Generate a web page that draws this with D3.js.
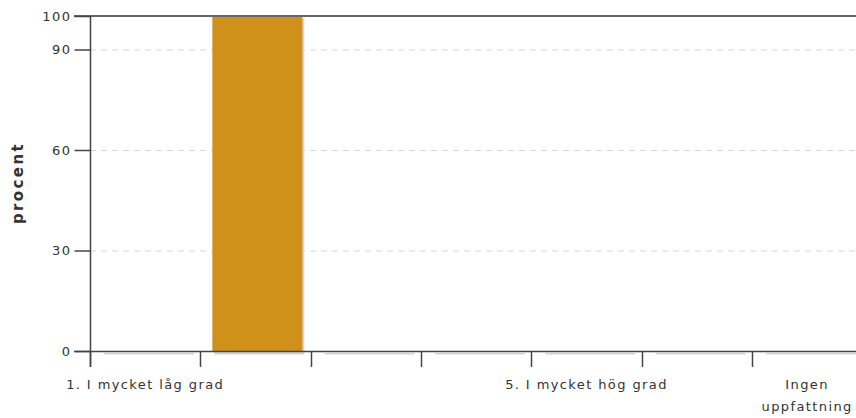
<!DOCTYPE html>
<html><head><meta charset="utf-8">
<script src="https://cdn.jsdelivr.net/npm/d3@7"></script>
<style>
body{margin:0;background:#fff;}
svg text{font-family:"DejaVu Sans",Verdana,sans-serif;fill:#333;}
</style></head>
<body><svg id="c" width="856" height="418"></svg>
<script>
const categories = ["c1","c2","c3","c4","c5","c6","c7"];
const categoryLabels = [["1. I mycket låg grad"],[],[],[],["5. I mycket hög grad"],[],["Ingen","uppfattning"]];
const values = [0,100,0,0,0,0,0];
const yTicks = [0,30,60,90,100];
const gridTicks = [30,60,90];
const yLabel = "procent";

const svg = d3.select("#c");
const x = d3.scaleBand().domain(categories).range([90, 862.3]);
const y = d3.scaleLinear().domain([0,100]).range([351, 16]);
const barColor = "#D0911A";

// gridlines
svg.append("g").selectAll("line").data(gridTicks).join("line")
  .attr("x1",90).attr("x2",856).attr("y1",d=>y(d)+0.5).attr("y2",d=>y(d)+0.5)
  .attr("stroke","#d8d8d8").attr("stroke-dasharray","6,5");

// bars with shadow
const bw = x.bandwidth();
const padL = 12, barW = 90;
const g = svg.append("g");
g.selectAll("rect.sh").data(values).join("rect").attr("class","sh")
  .attr("x",(d,i)=>x(categories[i])+padL+2).attr("width",barW)
  .attr("y",d=>y(d)+2).attr("height",d=>y(0)-y(d)+1.5)
  .attr("fill","#d4d4d4");
g.selectAll("rect.b").data(values).join("rect").attr("class","b")
  .attr("x",(d,i)=>x(categories[i])+padL).attr("width",barW)
  .attr("y",d=>y(d)).attr("height",d=>y(0)-y(d))
  .attr("fill",barColor);

// top line
svg.append("line").attr("x1",74).attr("x2",856).attr("y1",y(100)).attr("y2",y(100))
  .attr("stroke","#666").attr("stroke-width",2);

// y axis
const yAxis = d3.axisLeft(y).tickValues(yTicks).tickSize(16).tickPadding(3).tickFormat(d3.format("d"));
const ya = svg.append("g").attr("transform","translate(90.5,0)").call(yAxis);
ya.select(".domain").remove();
ya.selectAll(".tick line").attr("stroke","#444").attr("stroke-width",1.5);
ya.selectAll(".tick text").attr("font-size",13).style("letter-spacing","1.5px").attr("fill","#333");
svg.append("line").attr("x1",90.5).attr("x2",90.5).attr("y1",y(100)).attr("y2",y(0)+16)
  .attr("stroke","#444").attr("stroke-width",1.5);

// x axis
svg.append("line").attr("x1",74).attr("x2",856).attr("y1",351.5).attr("y2",351.5)
  .attr("stroke","#444").attr("stroke-width",1.5);
const xa = svg.append("g");
xa.selectAll("line").data(categories).join("line")
  .attr("x1",d=>Math.round(x(d))+0.5).attr("x2",d=>Math.round(x(d))+0.5)
  .attr("y1",351).attr("y2",367).attr("stroke","#444").attr("stroke-width",1.5);
const lbl = xa.selectAll("text").data(categories).join("text")
  .attr("x",d=>x(d)+bw/2).attr("y",389).attr("text-anchor","middle")
  .attr("font-size",13).style("letter-spacing","1.4px");
lbl.each(function(d,i){
  const t=d3.select(this);
  categoryLabels[i].forEach((s,j)=>t.append("tspan").attr("x",x(d)+bw/2).attr("dy",j?22:0).text(s));
});

// y label
svg.append("text").attr("transform","translate(23,"+183+") rotate(-90)")
  .attr("text-anchor","middle").attr("font-size",15).attr("font-weight","bold")
  .style("letter-spacing","2.4px").text(yLabel);
</script></body></html>
